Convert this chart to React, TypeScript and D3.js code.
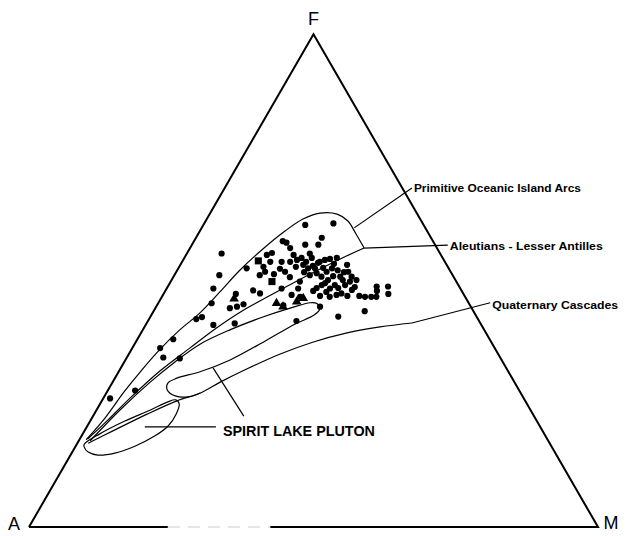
import React from 'react';
import * as d3 from 'd3';

const W = 626;
const H = 536;

// Compositions as [F%, M%]; A% = 100 - F - M
const circleSamples: [number, number][] = [
  [55.5, 6.1], [51.1, 7.9], [48.4, 8.2], [45.4, 9.4], [42.2, 8.3], [42.6, 9.1], [41.0, 11.9],
  [36.3, 4.9], [38.1, 6.3], [34.4, 6.4], [34.2, 9.4], [27.7, 4.8], [26.1, 1.2], [41.3, 15.5],
  [52.5, 12.0], [48.0, 15.4], [47.4, 16.9], [44.4, 13.1], [44.7, 14.2], [45.2, 15.1], [47.3, 12.7],
  [61.3, 17.9], [61.6, 22.7], [58.7, 22.1], [57.3, 22.2], [57.3, 19.9], [57.7, 16.4], [56.6, 17.6],
  [58.0, 15.6], [55.2, 14.2], [52.8, 14.8], [51.8, 15.6], [51.1, 15.0], [52.4, 17.9], [53.8, 17.5],
  [51.8, 19.1], [55.2, 18.9], [54.2, 20.0], [54.6, 20.6], [53.2, 21.6], [55.5, 21.6], [52.5, 22.8],
  [52.5, 24.0], [53.8, 24.2], [54.2, 24.9], [54.4, 25.7], [54.6, 26.8], [51.5, 24.8], [50.8, 26.0],
  [51.8, 26.4], [52.5, 27.0], [50.1, 27.5], [49.1, 26.9], [48.4, 28.7], [49.1, 29.2], [50.8, 29.3],
  [53.2, 29.3], [51.8, 30.2], [50.8, 31.3], [49.8, 31.5], [50.1, 32.5], [49.1, 31.0], [47.4, 31.2],
  [48.1, 32.7], [47.1, 30.5], [46.7, 29.5], [46.7, 35.7], [46.7, 36.8], [46.7, 37.7], [48.8, 36.7],
  [47.9, 37.2], [48.8, 38.7], [47.3, 39.5], [49.8, 22.7], [48.4, 23.1], [47.1, 22.6], [45.0, 22.2],
  [47.9, 26.0], [48.5, 26.3], [48.4, 20.2], [41.8, 26.1], [42.7, 33.0], [43.8, 37.1], [44.7, 28.8],
  [54.6, 22.4], [53.6, 24.0], [53.8, 21.8], [53.0, 23.4], [52.6, 25.4], [53.4, 26.9], [52.1, 28.2],
  [51.7, 29.5], [50.9, 28.0], [49.5, 27.3], [50.1, 30.1], [48.5, 30.1], [46.9, 32.5], [51.1, 23.8],
  [51.7, 22.5], [52.8, 20.5], [53.8, 19.0], [55.6, 14.9], [53.8, 15.5], [50.7, 20.5], [47.7, 28.4],
  [48.7, 32.9], [51.3, 17.4], [46.9, 27.7], [46.9, 34.6], [46.7, 24.3]
];
const triangleSamples: [number, number][] = [
  [46.3, 12.9], [45.4, 20.8], [44.7, 22.3], [45.7, 24.2], [46.4, 25.0]
];
const squareSamples: [number, number][] = [
  [54.0, 13.3], [49.8, 17.8]
];

// Field outlines, [F%, M%]
const primitiveUpper: [number, number][] = [
  [17.7, 1.2], [22.1, 2.3], [27.4, 3.0], [31.9, 3.9], [36.1, 5.0], [40.0, 6.5], [43.4, 8.3],
  [47.7, 9.7], [52.1, 11.0], [56.2, 12.8], [60.1, 15.0], [62.5, 16.9], [63.7, 19.3], [63.5, 22.4],
  [62.1, 25.0], [59.5, 27.7], [56.6, 30.6]
];
const primitiveLower: [number, number][] = [
  [56.6, 30.6], [54.4, 27.5], [51.3, 23.7], [48.1, 20.1], [45.9, 17.7], [43.6, 15.3], [40.2, 12.6],
  [36.3, 10.1], [31.7, 7.2], [26.2, 4.7], [21.7, 3.0], [17.9, 1.4]
];
const aleutiansField: [number, number][] = [
  [17.5, 2.0], [23.7, 4.1], [29.4, 6.6], [33.5, 8.9], [37.1, 11.5], [40.0, 15.3], [42.4, 19.4],
  [44.4, 23.7], [45.5, 26.7], [45.3, 28.0], [44.2, 29.0], [43.0, 28.6], [41.2, 26.2], [37.7, 22.6],
  [33.9, 18.4], [31.5, 14.3], [30.2, 10.9], [29.2, 9.8], [27.8, 10.4], [26.6, 12.4], [26.4, 14.8],
  [27.2, 16.5]
];
const cascadesField: [number, number][] = [
  [17.0, 1.9], [19.5, 5.0], [22.9, 9.3], [25.6, 13.2], [27.2, 16.5], [29.4, 18.9], [32.1, 22.3],
  [35.1, 26.6], [37.5, 31.1], [39.4, 36.2], [40.6, 41.4], [41.4, 46.6]
];
const spiritLakeField: [number, number][] = [
  [16.8, 1.3], [18.9, 3.0], [21.5, 6.1], [23.7, 9.4], [25.4, 11.7], [25.8, 12.9], [25.0, 13.9],
  [22.9, 14.4], [20.5, 14.2], [18.5, 12.9], [16.4, 10.4], [15.0, 7.6], [14.6, 4.8], [15.2, 2.8],
  [16.2, 1.6]
];

const cornerLabels = ['A', 'F', 'M'];
const fieldLabels = [
  'Primitive Oceanic Island Arcs',
  'Aleutians - Lesser Antilles',
  'Quaternary Cascades',
  'SPIRIT LAKE PLUTON'
];
// leader lines [from, to] in [F%, M%]
const leaders: [number, number][][] = [
  [[60.7, 26.8], [68.8, 32.9]],
  [[56.6, 30.6], [57.2, 45.0]],
  [[41.4, 46.6], [45.5, 58.3]],
  [[20.3, 10.2], [20.3, 22.7]],
  [[32.3, 16.2], [22.5, 26.5]]
];

const xS = d3.scaleLinear().domain([0, 100]).range([29, 598]);
const yS = d3.scaleLinear().domain([0, 100]).range([527, 34.2]);
const proj = (d: [number, number]): [number, number] => [xS(d[1] + d[0] / 2), yS(d[0])];

const openLine = d3.line<[number, number]>().x(d => proj(d)[0]).y(d => proj(d)[1]).curve(d3.curveCatmullRom.alpha(0.5));
const closedLine = d3.line<[number, number]>().x(d => proj(d)[0]).y(d => proj(d)[1]).curve(d3.curveCatmullRomClosed.alpha(0.5));
const straight = d3.line<[number, number]>().x(d => proj(d)[0]).y(d => proj(d)[1]);

const triSym = d3.symbol().type(d3.symbolTriangle).size(40)();
const sqSym = d3.symbol().type(d3.symbolSquare).size(50)();

export default function App() {
  const A: [number, number] = [0, 0];
  const F: [number, number] = [100, 0];
  const M: [number, number] = [0, 100];
  const pA = proj(A), pF = proj(F), pM = proj(M);
  const gap1 = d3.interpolateArray(pA, pM)(0.244) as number[];
  const gap2 = d3.interpolateArray(pA, pM)(0.424) as number[];
  const labelEnds = leaders.map(l => proj(l[1]));
  const font = 'Liberation Sans, Arial, Helvetica, sans-serif';
  return (
    <svg width={W} height={H} style={{ position: 'absolute', left: 0, top: 0, background: '#fff' }}>
      <rect width={W} height={H} fill="#fff" />
      {/* triangle */}
      <path d={`M${pA[0]},${pA[1]}L${pF[0]},${pF[1]}L${pM[0]},${pM[1]}L${gap2[0]},${gap2[1]}`} fill="none" stroke="#000" strokeWidth={2} strokeLinejoin="miter" />
      <path d={`M${pA[0]},${pA[1]}L${gap1[0]},${gap1[1]}`} fill="none" stroke="#000" strokeWidth={2} />
      <path d={`M${gap1[0]},${gap1[1]}L${gap2[0]},${gap2[1]}`} fill="none" stroke="#ddd" strokeWidth={1.5} strokeDasharray="12 8" />
      {/* fields */}
      <g fill="none" stroke="#000" strokeWidth={1.2}>
        <path d={openLine(primitiveUpper) || ''} />
        <path d={openLine(primitiveLower) || ''} />
        <path d={openLine(aleutiansField) || ''} />
        <path d={openLine(cascadesField) || ''} />
        <path d={closedLine(spiritLakeField) || ''} />
        {leaders.map((l, i) => <path key={i} d={straight(l) || ''} />)}
      </g>
      {/* samples */}
      <g fill="#000">
        {circleSamples.map((d, i) => {
          const [x, y] = proj(d);
          return <circle key={i} cx={x} cy={y} r={3.1} />;
        })}
        {triangleSamples.map((d, i) => {
          const [x, y] = proj(d);
          return <path key={i} d={triSym || ''} transform={`translate(${x},${y})`} />;
        })}
        {squareSamples.map((d, i) => {
          const [x, y] = proj(d);
          return <path key={i} d={sqSym || ''} transform={`translate(${x},${y})`} />;
        })}
      </g>
      {/* corner labels */}
      <g fontFamily={font} fontSize={18} fill="#000">
        <text x={pA[0] - 15} y={pA[1] + 3} textAnchor="middle">{cornerLabels[0]}</text>
        <text x={pF[0]} y={pF[1] - 9} textAnchor="middle">{cornerLabels[1]}</text>
        <text x={pM[0] + 13} y={pM[1] + 2} textAnchor="middle">{cornerLabels[2]}</text>
      </g>
      {/* field labels */}
      <g fontFamily={font} fontWeight="bold" fontSize={11} fill="#000">
        <text x={labelEnds[0][0] + 2} y={labelEnds[0][1] + 4} textLength={167} lengthAdjust="spacingAndGlyphs">{fieldLabels[0]}</text>
        <text x={labelEnds[1][0] + 2} y={labelEnds[1][1] + 5} textLength={153} lengthAdjust="spacingAndGlyphs">{fieldLabels[1]}</text>
        <text x={labelEnds[2][0] + 2} y={labelEnds[2][1] + 6} textLength={126} lengthAdjust="spacingAndGlyphs">{fieldLabels[2]}</text>
      </g>
      <text x={labelEnds[3][0] + 7} y={labelEnds[3][1] + 9} fontFamily={font} fontWeight="bold" fontSize={15} fill="#000" textLength={152} lengthAdjust="spacingAndGlyphs">{fieldLabels[3]}</text>
    </svg>
  );
}
